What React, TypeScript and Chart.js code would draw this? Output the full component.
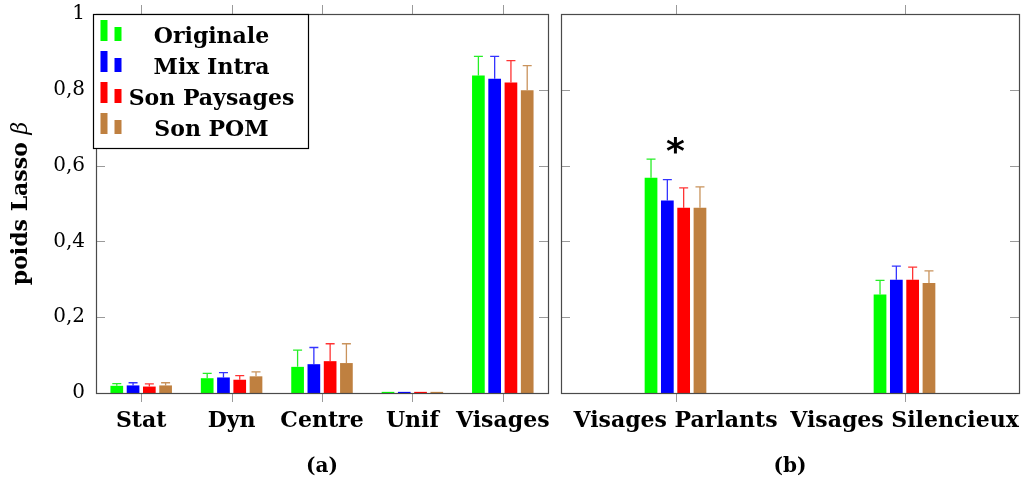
import React, { useEffect, useRef } from 'react';
import { Chart, registerables } from 'chart.js';
Chart.register(...registerables);

const seriesNames = ['Originale', 'Mix Intra', 'Son Paysages', 'Son POM'];
const seriesColors = ['#00ff00', '#0000ff', '#ff0000', '#bf8040'];
const errColors = ['rgba(0,235,0,0.85)', 'rgba(0,0,255,0.8)', 'rgba(255,0,0,0.8)', 'rgba(191,128,64,0.85)'];

const categoriesA = ['Stat', 'Dyn', 'Centre', 'Unif', 'Visages'];
const originaleA = [0.019, 0.039, 0.069, 0.003, 0.838];
const originaleErrA = [0.006, 0.013, 0.044, 0, 0.05];
const mixA = [0.02, 0.041, 0.076, 0.003, 0.829];
const mixErrA = [0.007, 0.013, 0.044, 0, 0.059];
const paysagesA = [0.017, 0.035, 0.084, 0.003, 0.819];
const paysagesErrA = [0.007, 0.011, 0.046, 0, 0.058];
const pomA = [0.02, 0.044, 0.079, 0.003, 0.799];
const pomErrA = [0.007, 0.012, 0.051, 0, 0.065];

const categoriesB = ['Visages Parlants', 'Visages Silencieux'];
const originaleB = [0.568, 0.26];
const originaleErrB = [0.049, 0.037];
const mixB = [0.508, 0.299];
const mixErrB = [0.055, 0.036];
const paysagesB = [0.489, 0.299];
const paysagesErrB = [0.052, 0.033];
const pomB = [0.489, 0.29];
const pomErrB = [0.055, 0.032];

const yTicks = [0, 0.2, 0.4, 0.6, 0.8, 1];
const significantCategory = 'Visages Parlants';
const yTitleMain = 'poids Lasso ';
const yTitleSymbol = 'β';

const FONT = 'DejaVu Serif';
const TICK_LEN = 9;

function makeDatasets(values: number[][], errors: number[][], catPct: number) {
  return values.map((v, i) => ({
    label: seriesNames[i],
    data: v,
    errors: errors[i],
    backgroundColor: seriesColors[i],
    borderWidth: 0,
    categoryPercentage: catPct,
    barPercentage: 0.78,
  }));
}

const errorBarPlugin = {
  id: 'errorBars',
  afterDatasetsDraw(chart: any) {
    const ctx = chart.ctx;
    const y = chart.scales.y;
    chart.data.datasets.forEach((ds: any, i: number) => {
      const meta = chart.getDatasetMeta(i);
      meta.data.forEach((el: any, j: number) => {
        const err = ds.errors[j];
        if (!err) return;
        const top = y.getPixelForValue(ds.data[j] + err);
        ctx.save();
        ctx.strokeStyle = errColors[i];
        ctx.lineWidth = 1.3;
        ctx.beginPath();
        ctx.moveTo(el.x, el.y);
        ctx.lineTo(el.x, top);
        ctx.moveTo(el.x - 4.5, top);
        ctx.lineTo(el.x + 4.5, top);
        ctx.stroke();
        ctx.restore();
      });
    });
  },
};

const framePlugin = {
  id: 'frame',
  afterDraw(chart: any) {
    const ctx = chart.ctx;
    const { left, right, top, bottom } = chart.chartArea;
    const y = chart.scales.y;
    const x = chart.scales.x;
    ctx.save();
    ctx.strokeStyle = '#9a9a9a';
    ctx.lineWidth = 1;
    ctx.beginPath();
    yTicks.forEach((v) => {
      if (v === 0 || v === 1) return;
      const py = Math.round(y.getPixelForValue(v)) + 0.5;
      ctx.moveTo(left, py);
      ctx.lineTo(left + TICK_LEN, py);
      ctx.moveTo(right - TICK_LEN, py);
      ctx.lineTo(right, py);
    });
    chart.data.labels.forEach((_: any, i: number) => {
      const px = Math.round(x.getPixelForValue(i)) + 0.5;
      ctx.moveTo(px, bottom);
      ctx.lineTo(px, bottom + TICK_LEN);
      ctx.moveTo(px, top - TICK_LEN);
      ctx.lineTo(px, top);
    });
    ctx.stroke();
    ctx.strokeStyle = '#4a4a4a';
    ctx.lineWidth = 1.2;
    ctx.strokeRect(Math.round(left) + 0.5, Math.round(top) + 0.5, Math.round(right - left), Math.round(bottom - top));
    ctx.restore();
  },
};

const legendPlugin = {
  id: 'boxLegend',
  afterDraw(chart: any) {
    const ctx = chart.ctx;
    const { left, top } = chart.chartArea;
    const bx = Math.round(left) - 3 + 0.5;
    const by = Math.round(top) + 0.5;
    ctx.save();
    ctx.fillStyle = '#ffffff';
    ctx.fillRect(bx, by, 215, 134);
    ctx.strokeStyle = '#000000';
    ctx.lineWidth = 1.2;
    ctx.strokeRect(bx, by, 215, 134);
    ctx.font = `bold 22px "${FONT}"`;
    ctx.textAlign = 'center';
    ctx.textBaseline = 'alphabetic';
    seriesNames.forEach((name, i) => {
      const base = by + 28.5 + 31 * i;
      ctx.fillStyle = seriesColors[i];
      ctx.fillRect(bx + 7, base - 23, 7, 21);
      ctx.fillRect(bx + 21, base - 16, 7, 14);
      ctx.fillStyle = '#000000';
      ctx.fillText(name, bx + 118, base);
    });
    ctx.restore();
  },
};

const yTitlePlugin = {
  id: 'yTitle',
  afterDraw(chart: any) {
    const ctx = chart.ctx;
    const { top, bottom } = chart.chartArea;
    const cy = (top + bottom) / 2;
    ctx.save();
    ctx.translate(21, cy);
    ctx.rotate(-Math.PI / 2);
    const mainFont = `bold 22px "${FONT}"`;
    const symFont = `italic 22px "${FONT}"`;
    ctx.font = mainFont;
    const w1 = ctx.measureText(yTitleMain).width;
    ctx.font = symFont;
    const w2 = ctx.measureText(yTitleSymbol).width;
    const start = -(w1 + w2) / 2;
    ctx.fillStyle = '#000';
    ctx.textAlign = 'left';
    ctx.textBaseline = 'middle';
    ctx.font = mainFont;
    ctx.fillText(yTitleMain, start, 0);
    ctx.font = symFont;
    ctx.fillText(yTitleSymbol, start + w1, 0);
    ctx.restore();
  },
};

const starPlugin = {
  id: 'star',
  afterDraw(chart: any) {
    const ctx = chart.ctx;
    const idx = chart.data.labels.indexOf(significantCategory);
    if (idx < 0) return;
    const px = chart.scales.x.getPixelForValue(idx);
    const topVal = Math.max(...chart.data.datasets.map((d: any) => d.data[idx] + d.errors[idx]));
    const py = chart.scales.y.getPixelForValue(topVal);
    ctx.save();
    ctx.fillStyle = '#000';
    ctx.font = `bold 36px "DejaVu Sans"`;
    ctx.textAlign = 'center';
    ctx.textBaseline = 'alphabetic';
    ctx.fillText('*', px, py + 4);
    ctx.restore();
  },
};

function tickLabel(v: number) {
  if (v === 0) return '0';
  if (v === 1) return '1';
  return v.toFixed(1).replace('.', ',');
}

function xScale(title: string) {
  return {
    type: 'category' as const,
    offset: true,
    grid: { display: false, drawTicks: false },
    border: { display: false },
    ticks: { padding: 15, color: '#000', font: { family: FONT, size: 22, weight: 'bold' as const }, maxRotation: 0, autoSkip: false },
    title: { display: true, text: title, color: '#000', font: { family: FONT, size: 20, weight: 'bold' as const }, padding: { top: 0, bottom: 8 } },
    afterFit(s: any) {
      s.height = 94;
      s.paddingLeft = 0;
      s.paddingRight = 0;
    },
  };
}

export default function App() {
  const refA = useRef<HTMLCanvasElement>(null);
  const refB = useRef<HTMLCanvasElement>(null);

  useEffect(() => {
    const chartA = new Chart(refA.current!, {
      type: 'bar',
      data: {
        labels: categoriesA,
        datasets: makeDatasets([originaleA, mixA, paysagesA, pomA], [originaleErrA, mixErrA, paysagesErrA, pomErrA], 0.72) as any,
      },
      options: {
        animation: false,
        responsive: true,
        maintainAspectRatio: false,
        layout: { padding: { top: 14, right: 8, left: 0, bottom: 0 } },
        plugins: { legend: { display: false }, tooltip: { enabled: false } },
        scales: {
          x: xScale('(a)') as any,
          y: {
            min: 0,
            max: 1,
            afterBuildTicks(s: any) {
              s.ticks = yTicks.map((v) => ({ value: v }));
            },
            grid: { display: false, drawTicks: false },
            border: { display: false },
            ticks: { padding: 11, color: '#000', font: { family: FONT, size: 20 }, callback: (v: any) => tickLabel(Number(v)) },
            afterFit(s: any) {
              s.width = 96;
              s.paddingTop = 0;
              s.paddingBottom = 0;
            },
          },
        },
      },
      plugins: [errorBarPlugin, framePlugin, legendPlugin, yTitlePlugin],
    });

    const chartB = new Chart(refB.current!, {
      type: 'bar',
      data: {
        labels: categoriesB,
        datasets: makeDatasets([originaleB, mixB, paysagesB, pomB], [originaleErrB, mixErrB, paysagesErrB, pomErrB], 0.285) as any,
      },
      options: {
        animation: false,
        responsive: true,
        maintainAspectRatio: false,
        layout: { padding: { top: 14, right: 4, left: 5, bottom: 0 } },
        plugins: { legend: { display: false }, tooltip: { enabled: false } },
        scales: {
          x: xScale('(b)') as any,
          y: { min: 0, max: 1, display: false },
        },
      },
      plugins: [errorBarPlugin, framePlugin, starPlugin],
    });

    return () => {
      chartA.destroy();
      chartB.destroy();
    };
  }, []);

  return (
    <div style={{ position: 'absolute', left: 0, top: 0, width: 1023, height: 487, background: '#fff' }}>
      <div style={{ position: 'absolute', left: 0, top: 0, width: 556, height: 487 }}>
        <canvas ref={refA} />
      </div>
      <div style={{ position: 'absolute', left: 556, top: 0, width: 467, height: 487 }}>
        <canvas ref={refB} />
      </div>
    </div>
  );
}
